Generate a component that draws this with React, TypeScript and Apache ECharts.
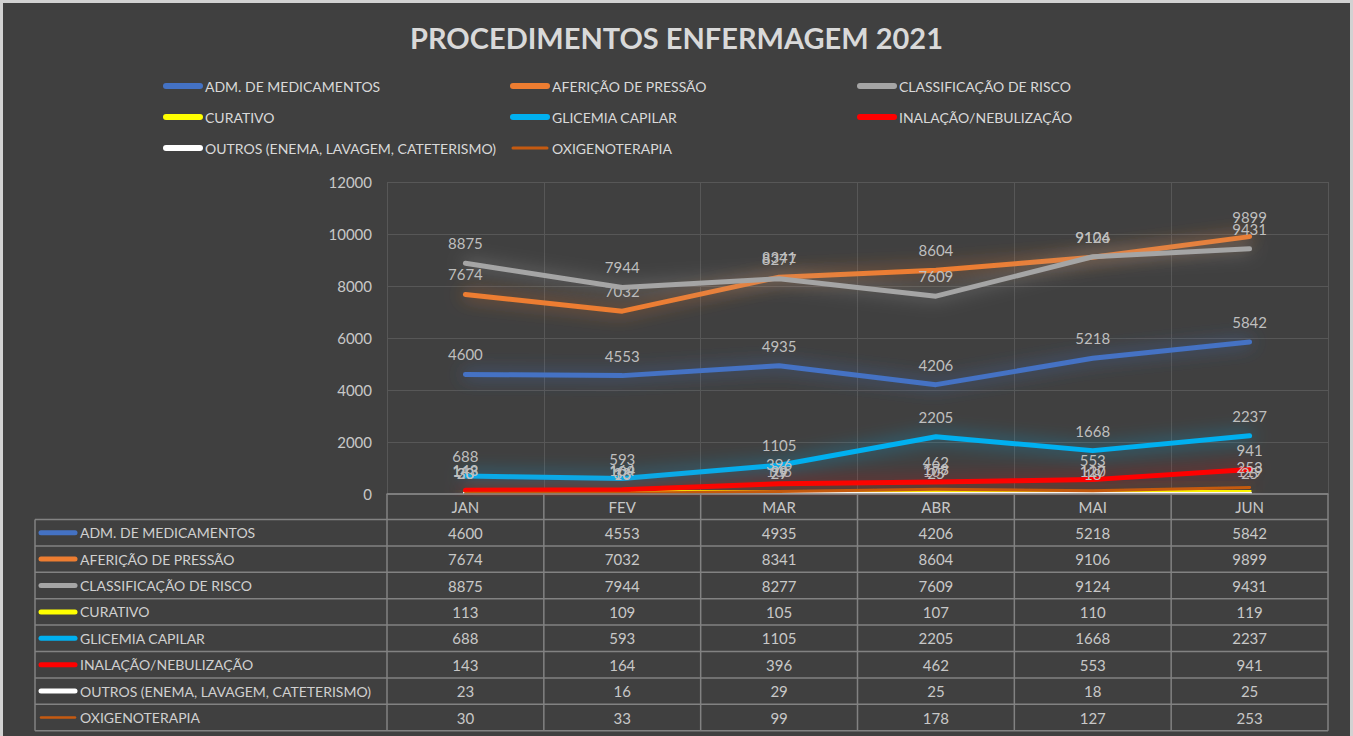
import React, { useEffect, useRef } from 'react';
import * as echarts from 'echarts';

const FONT = 'Lato, "Liberation Sans", sans-serif';

const titleText = 'PROCEDIMENTOS ENFERMAGEM 2021';
const months = ['JAN', 'FEV', 'MAR', 'ABR', 'MAI', 'JUN'];

const seriesNames = [
  'ADM. DE MEDICAMENTOS',
  'AFERIÇÃO DE PRESSÃO',
  'CLASSIFICAÇÃO DE RISCO',
  'CURATIVO',
  'GLICEMIA CAPILAR',
  'INALAÇÃO/NEBULIZAÇÃO',
  'OUTROS (ENEMA, LAVAGEM, CATETERISMO)',
  'OXIGENOTERAPIA',
];

const admMedicamentos = [4600, 4553, 4935, 4206, 5218, 5842];
const afericaoPressao = [7674, 7032, 8341, 8604, 9106, 9899];
const classificacaoRisco = [8875, 7944, 8277, 7609, 9124, 9431];
const curativo = [113, 109, 105, 107, 110, 119];
const glicemiaCapilar = [688, 593, 1105, 2205, 1668, 2237];
const inalacaoNebulizacao = [143, 164, 396, 462, 553, 941];
const outros = [23, 16, 29, 25, 18, 25];
const oxigenoterapia = [30, 33, 99, 178, 127, 253];

const seriesValues = [
  admMedicamentos,
  afericaoPressao,
  classificacaoRisco,
  curativo,
  glicemiaCapilar,
  inalacaoNebulizacao,
  outros,
  oxigenoterapia,
];

const yMin = 0;
const yMax = 12000;
const yInterval = 2000;

const colors = ['#4472C4', '#ED7D31', '#A5A5A5', '#FFFF00', '#00B0F0', '#FF0000', '#FFFFFF', '#C55A11'];
const glows = [
  'rgba(68,114,196,0.75)',
  'rgba(237,125,49,0.7)',
  'rgba(165,165,165,0.7)',
  'rgba(255,255,0,0.5)',
  'rgba(0,176,240,0.7)',
  'rgba(255,0,0,0.55)',
  'rgba(255,255,255,0.45)',
  'rgba(197,90,17,0.55)',
];
const widths = [5, 5, 5, 4, 5, 5, 5, 3];

const legendColumns = [
  [0, 3, 6],
  [1, 4, 7],
  [2, 5],
];
const legendLefts = [163, 510, 857];

export default function App() {
  const ref = useRef<HTMLDivElement>(null);

  useEffect(() => {
    if (!ref.current) return;
    const chart = echarts.init(ref.current, undefined, { renderer: 'svg' });

    const option: any = {
      animation: false,
      backgroundColor: '#404040',
      textStyle: { fontFamily: FONT },
      title: {
        text: titleText,
        left: 'center',
        top: 18,
        textStyle: { color: '#d9d9d9', fontSize: 29, fontWeight: 'bold', fontFamily: FONT },
      },
      legend: legendColumns.map((col, ci) => ({
        orient: 'vertical',
        left: legendLefts[ci],
        top: 79,
        padding: 0,
        itemWidth: 34,
        itemHeight: 14,
        itemGap: 17,
        selectedMode: false,
        textStyle: { color: '#d9d9d9', fontSize: 14, lineHeight: 14, fontFamily: FONT },
        data: col.map((i) => ({
          name: seriesNames[i],
          itemStyle: { color: 'rgba(0,0,0,0)', opacity: 0 },
          lineStyle: { width: i === 7 ? 3 : 6, cap: 'round', color: colors[i], shadowBlur: 0 },
        })),
      })),
      grid: { left: 387, top: 182, width: 941, height: 312, containLabel: false },
      xAxis: {
        type: 'category',
        data: months,
        boundaryGap: true,
        axisLine: { show: true, lineStyle: { color: '#808080', width: 1.5 } },
        axisTick: { show: false },
        axisLabel: { color: '#c8c8c8', fontSize: 15, margin: 5, fontFamily: FONT },
        splitLine: { show: true, lineStyle: { color: '#575757', width: 1 } },
      },
      yAxis: {
        type: 'value',
        min: yMin,
        max: yMax,
        interval: yInterval,
        axisLine: { show: false },
        axisTick: { show: false },
        axisLabel: {
          color: '#c8c8c8',
          fontSize: 15,
          margin: 15,
          fontFamily: FONT,
          formatter: (v: number) => String(v),
        },
        splitLine: { show: true, lineStyle: { color: '#575757', width: 1 } },
      },
      series: seriesNames.map((name, i) => ({
        type: 'line',
        name,
        data: seriesValues[i],
        symbol: 'circle',
        symbolSize: 1,
        showSymbol: true,
        itemStyle: { color: 'rgba(0,0,0,0)' },
        lineStyle: {
          color: colors[i],
          width: widths[i],
          cap: 'round',
          join: 'round',
          shadowBlur: 18,
          shadowColor: glows[i],
        },
        label: {
          show: true,
          position: 'top',
          distance: 12,
          color: '#bfbfbf',
          fontSize: 15,
          fontFamily: FONT,
        },
        emphasis: { disabled: true },
        z: 2 + i,
      })),
    };

    chart.setOption(option);

    // data table under the plot, positioned from the axes' own scales
    const c0 = chart.convertToPixel({ xAxisIndex: 0 }, 0) as number;
    const c1 = chart.convertToPixel({ xAxisIndex: 0 }, 1) as number;
    const band = c1 - c0;
    const yZero = chart.convertToPixel({ yAxisIndex: 0 }, 0) as number;
    const colLeft = c0 - band / 2;
    const colRight = colLeft + band * months.length;
    const tableLeft = 35;
    const headerH = 25.5;
    const rowH = 26.4;
    const dataTop = yZero + headerH;
    const tableBottom = dataTop + rowH * seriesNames.length;
    const lineColor = '#828282';

    const elements: any[] = [];
    elements.push({
      type: 'line',
      shape: { x1: colLeft, y1: yZero, x2: colRight, y2: yZero },
      style: { stroke: lineColor, lineWidth: 1.5 },
      z: 50,
    });
    for (let r = 0; r <= seriesNames.length; r++) {
      const y = dataTop + r * rowH;
      elements.push({
        type: 'line',
        shape: { x1: tableLeft, y1: y, x2: colRight, y2: y },
        style: { stroke: lineColor, lineWidth: 1.5 },
        z: 50,
      });
    }
    elements.push({
      type: 'line',
      shape: { x1: tableLeft, y1: dataTop, x2: tableLeft, y2: tableBottom },
      style: { stroke: lineColor, lineWidth: 1.5 },
      z: 50,
    });
    for (let k = 0; k <= months.length; k++) {
      const x = colLeft + k * band;
      elements.push({
        type: 'line',
        shape: { x1: x, y1: yZero, x2: x, y2: tableBottom },
        style: { stroke: lineColor, lineWidth: 1.5 },
        z: 50,
      });
    }
    seriesNames.forEach((name, i) => {
      const cy = dataTop + (i + 0.5) * rowH;
      elements.push({
        type: 'line',
        shape: { x1: 41, y1: cy, x2: 75, y2: cy },
        style: { stroke: colors[i], lineWidth: i === 7 ? 2.5 : 5, lineCap: 'round' },
        z: 50,
      });
      elements.push({
        type: 'text',
        x: 80,
        y: cy,
        style: {
          text: name,
          fill: '#d0d0d0',
          fontSize: 14,
          fontFamily: FONT,
          align: 'left',
          verticalAlign: 'middle',
          textAlign: 'left',
          textVerticalAlign: 'middle',
        },
        z: 50,
      });
      seriesValues[i].forEach((v, j) => {
        const cx = chart.convertToPixel({ xAxisIndex: 0 }, j) as number;
        elements.push({
          type: 'text',
          x: cx,
          y: cy,
          style: {
            text: String(v),
            fill: '#c8c8c8',
            fontSize: 15,
            fontFamily: FONT,
            align: 'center',
            verticalAlign: 'middle',
            textAlign: 'center',
            textVerticalAlign: 'middle',
          },
          z: 50,
        });
      });
    });
    elements.push({
      type: 'rect',
      shape: { x: 1.5, y: 1.5, width: 1350, height: 1000 },
      style: { fill: 'none', stroke: '#d2d2d2', lineWidth: 3 },
      z: 100,
    });

    chart.setOption({ graphic: { elements } });

    return () => {
      chart.dispose();
    };
  }, []);

  return (
    <div
      ref={ref}
      style={{ position: 'absolute', left: 0, top: 0, width: 1353, height: 736 }}
    />
  );
}
